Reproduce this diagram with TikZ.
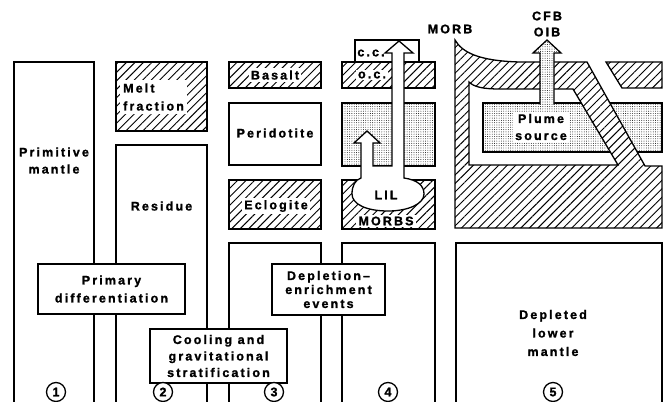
\documentclass[tikz,border=0pt]{standalone}
\usepackage{fontspec}
\newfontfamily\lbl{Liberation Sans}[LetterSpace=17, BoldFeatures={FakeBold=1.3}]
\usetikzlibrary{patterns.meta}
\begin{document}
\begin{tikzpicture}[x=1pt,y=-1pt,
 ln/.style={line width=1.3pt},
 hatch/.style={ln, draw, preaction={fill=white}, pattern={Lines[angle=45,distance=6pt,line width=0.95pt]}},
 stip/.style={ln, draw, preaction={fill=white}, pattern={Dots[radius=0.45pt,distance=2.3pt]}},
 txt/.style={font=\lbl\bfseries\fontsize{12.5}{#1}\selectfont, align=center, inner sep=1pt},
 txt/.default=17,
 wtxt/.style={txt=#1, fill=white, inner sep=2pt},
 wtxt/.default=17,
 procbox/.style={txt=#1, draw, ln, fill=white},
 num/.style={draw, circle, ln, minimum size=19pt, inner sep=0pt, font=\lbl\bfseries\fontsize{12.5}{12.5}\selectfont, fill=white}]
\useasboundingbox (0,0) rectangle (668,401);
% ---------- column 1
\draw[ln] (14,406) -- (14,62) -- (94,62) -- (94,406);
\node[txt=17] (primitive) at (54,160.5) {Primitive\\mantle};
% ---------- column 2
\path[hatch] (116,62) rectangle (207,131);
\node[txt=18, fill=white, align=left, anchor=west, inner sep=3pt] (melt) at (120,97) {Melt\\fraction};
\draw[ln] (116,406) -- (116,145) -- (207,145) -- (207,406);
\node[txt] (residue) at (161.5,206) {Residue};
% ---------- column 3
\path[hatch] (229,62) rectangle (321,88);
\node[wtxt] (basalt) at (275,75) {Basalt};
\draw[ln] (229,103) rectangle (321,165);
\node[txt] (perid) at (275,133) {Peridotite};
\path[hatch] (229,180) rectangle (321,229);
\node[wtxt] (eclog) at (276,206) {Eclogite};
\draw[ln] (229,406) -- (229,243) -- (321,243) -- (321,406);
% ---------- column 4
\path[ln, draw, fill=white] (355,40) rectangle (419,62);
\path[hatch] (342,62) rectangle (435,88);
\path[stip] (342,103) rectangle (435,166);
\path[hatch] (342,180) rectangle (435,229);
\path[ln, draw, fill=white] (399,41) -- (413,53) -- (404,53) -- (404,178)
  .. controls (418,180) and (424,186) .. (424,194)
  .. controls (424,204) and (408,211) .. (388,211)
  .. controls (366,211) and (352,204) .. (352,194)
  .. controls (352,186) and (355,180) .. (361,178)
  -- (361,143) -- (354,143) -- (367,131) -- (380,143) -- (373,143)
  -- (373,166) -- (392,166) -- (392,53) -- (385,53) -- cycle;
\node[txt] (cc) at (371,53) {c.c.};
\node[wtxt] (oc) at (372,75) {o.c.};
\node[txt] (lil) at (386,195) {LIL};
\node[wtxt] (morbs) at (386,221) {MORBS};
\draw[ln] (342,406) -- (342,243) -- (435,243) -- (435,406);
\node[txt] (morb) at (450,29) {MORB};
% ---------- column 5
\path[stip] (483,103) rectangle (662,152);
\begin{scope}[even odd rule]
\path[hatch] (455,40) .. controls (462,52) and (478,61) .. (520,62) -- (587,62) -- (645,166) -- (662,166) -- (662,228) -- (455,228) -- cycle
  (469,82) .. controls (474,87) and (483,89) .. (500,89) -- (573,89) -- (618,165) -- (469,165) -- cycle;
\end{scope}
\path[hatch] (606,62) -- (662,62) -- (662,88) -- (622,88) -- cycle;
\path[ln, draw, preaction={fill=white}, pattern={Dots[radius=0.45pt,distance=2.3pt]}]
  (540,104.5) -- (540,53) -- (533,53) -- (547,40) -- (561,53) -- (554,53) -- (554,104.5);
\node[wtxt=17] (plume) at (541,127) {Plume\\source};
\node[txt=16] (cfb) at (547,24) {CFB\\OIB};
\draw[ln] (456,406) -- (456,243) -- (662,243) -- (662,406);
\node[txt=18.5] (depleted) at (553,333) {Depleted\\lower\\mantle};
% ---------- process boxes
\node[procbox=18, minimum width=147pt, minimum height=50pt] (primary) at (111.5,289) {Primary\\differentiation};
\node[procbox=16.5, minimum width=137pt, minimum height=54pt] (cooling) at (218.5,356) {Cooling and\\gravitational\\stratification};
\node[procbox=14, minimum width=113pt, minimum height=51pt] (deplev) at (328.5,289.5) {Depletion–\\enrichment\\events};
% ---------- numbers
\node[num] (n1) at (56,392) {1};
\node[num] (n2) at (163,392) {2};
\node[num] (n3) at (274,392) {3};
\node[num] (n4) at (388,392) {4};
\node[num] (n5) at (553,392) {5};
\end{tikzpicture}
\end{document}
